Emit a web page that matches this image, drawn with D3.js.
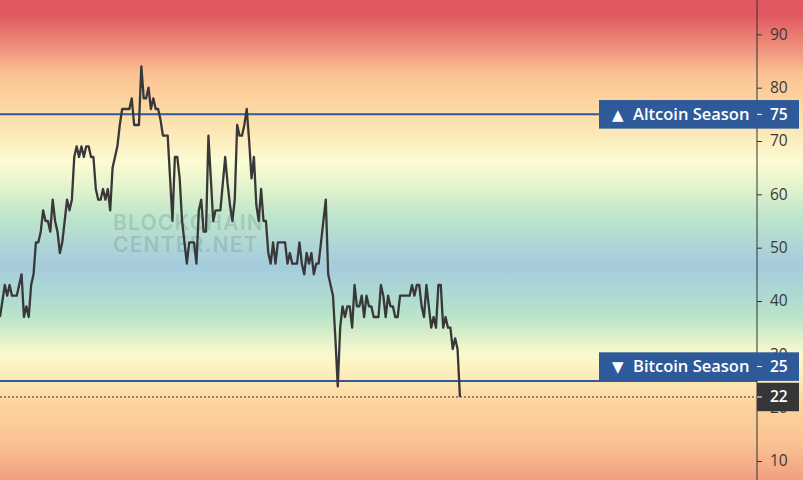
<!DOCTYPE html>
<html>
<head>
<meta charset="utf-8">
<script src="https://cdn.jsdelivr.net/npm/d3@7"></script>
<style>
html,body{margin:0;padding:0;background:#fff;}
svg{display:block;}
</style>
</head>
<body>
<svg id="chart" width="803" height="480"></svg>
<script>
// ---- data ----
const dayIndex = d3.range(0, 193); // one category per day
const seasonIndex = [
37,40,43,41,43,41,41,41,43,45,
37,39,37,43,45,51,51,53,57,55,
55,53,59,55,53,49,51,55,59,57,
59,67,69,67,69,67,69,69,67,67,
61,59,59,61,59,61,57,65,67,69,
73,76,76,76,76,78,73,73,73,84,
78,78,80,76,78,76,76,74,71,71,
71,63,55,67,67,63,55,51,47,51,
51,51,47,57,59,53,53,71,63,55,
57,57,57,62,67,62,58,55,59,73,
71,71,73,76,70,63,67,58,55,61,
55,55,49,47,51,47,51,51,51,51,
47,49,47,47,47,51,47,45,49,47,
49,45,47,47,51,55,59,45,43,41,
33,24,35,39,37,39,39,35,43,39,
39,41,37,41,39,39,37,37,37,43,
41,37,41,39,39,37,37,41,41,41,
41,41,43,41,43,43,39,37,43,39,
35,37,35,43,43,35,37,35,35,31,
33,31,22
];
const yTicks = [10,20,30,40,50,60,70,80,90];
const thresholds = [
  {value:75, icon:"\u25B2", label:"Altcoin Season", labelAt:75},
  {value:25, icon:"\u25BC", label:"Bitcoin Season", labelAt:27.7}
];
const currentValue = 22;
const watermark = ["BLOCKCHAIN","CENTER.NET"];
// background colour stops (value -> colour)
const bgStops = [
  [96.4,"#e05860"],[93.5,"#e05a60"],[88,"#ee8c7a"],[82.5,"#fbc394"],
  [75,"#fddca6"],[66,"#fbfcd3"],[61,"#e1f2cc"],[56,"#bfe6cb"],
  [46.7,"#a5cbdd"],[40,"#b0dcd0"],[36.4,"#bfe6c8"],[30,"#fbfacd"],
  [26,"#fdecba"],[21,"#fcd4a0"],[14,"#fbc595"],[6.4,"#f0a080"]
];

// ---- layout ----
const W = 803, H = 480, axisX = 757;
const svg = d3.select("#chart");
const y = d3.scaleLinear().domain([6.4375, 96.4375]).range([480, 0]);
const x = d3.scaleLinear().domain([0, 316]).range([0, axisX]);

// background gradient
const defs = svg.append("defs");
const grad = defs.append("linearGradient").attr("id","bg")
  .attr("gradientUnits","userSpaceOnUse").attr("x1",0).attr("y1",0).attr("x2",0).attr("y2",H);
grad.selectAll("stop").data(bgStops).join("stop")
  .attr("offset", d => Math.max(0, Math.min(1, y(d[0]) / H)))
  .attr("stop-color", d => d[1]);
svg.append("rect").attr("width",W).attr("height",H).attr("fill","url(#bg)");

// watermark
svg.append("g").selectAll("text").data(watermark).join("text")
  .attr("x",113).attr("y",(d,i)=>230 + i*21.5)
  .attr("font-family","Inter, 'Open Sans', sans-serif")
  .attr("font-size",21).attr("font-weight",600).attr("letter-spacing",1.2)
  .attr("fill","#5a7d7e").attr("fill-opacity",0.26)
  .text(d=>d);

// threshold lines
svg.append("g").selectAll("line").data(thresholds).join("line")
  .attr("x1",0).attr("x2",axisX)
  .attr("y1",d=>y(d.value)).attr("y2",d=>y(d.value))
  .attr("stroke","#2f5a9c").attr("stroke-width",2);

// current value dotted line
svg.append("line").attr("x1",0).attr("x2",axisX)
  .attr("y1",y(currentValue)).attr("y2",y(currentValue))
  .attr("stroke","#333").attr("stroke-width",1).attr("stroke-dasharray","2,2");

// index line
const line = d3.line().x((d,i)=>x(dayIndex[i])).y(d=>y(d));
svg.append("path").datum(seasonIndex)
  .attr("d",line).attr("fill","none")
  .attr("stroke","#383838").attr("stroke-width",2.3).attr("stroke-linejoin","round");

// right axis
const axis = svg.append("g").attr("transform",`translate(${axisX},0)`)
  .call(d3.axisRight(y).tickValues(yTicks).tickSize(5).tickPadding(8).tickSizeOuter(0));
axis.select(".domain").attr("stroke","#333").attr("d",`M0,0V${H}`);
axis.selectAll(".tick line").attr("stroke","#333");
axis.selectAll(".tick text").attr("fill","#3a3a3a")
  .attr("font-family","'Open Sans', sans-serif").attr("font-size",15.5);

// threshold label boxes (bitcoin box pushed up above the current-value box)
const boxes = svg.append("g").selectAll("g").data(thresholds).join("g")
  .attr("transform",d=>`translate(0,${y(d.labelAt)})`);
boxes.append("rect").attr("x",599).attr("y",-14.3).attr("width",200).attr("height",28.6)
  .attr("fill","#2f5a9a");
const lbl = boxes.append("text").attr("x",612).attr("y",0).attr("dy","0.35em")
  .attr("fill","#fff").attr("font-family","'Open Sans', sans-serif")
  .attr("font-size",16.5).attr("font-weight",600);
lbl.append("tspan").attr("font-family","'DejaVu Sans', sans-serif").attr("font-size",15).text(d=>d.icon);
lbl.append("tspan").attr("x",633).text(d=>d.label);
boxes.append("line").attr("x1",axisX).attr("x2",axisX+5).attr("stroke","#fff");
boxes.append("text").attr("x",770).attr("y",0).attr("dy","0.35em")
  .attr("fill","#fff").attr("font-family","'Open Sans', sans-serif")
  .attr("font-size",15.5).attr("font-weight",600).text(d=>d.value);

// current value box
const cur = svg.append("g").attr("transform",`translate(0,${y(currentValue)})`);
cur.append("rect").attr("x",axisX).attr("y",-14.2).attr("width",42).attr("height",28.4).attr("fill","#363636");
cur.append("line").attr("x1",axisX).attr("x2",axisX+5).attr("stroke","#fff");
cur.append("text").attr("x",770).attr("y",0).attr("dy","0.35em")
  .attr("fill","#fff").attr("font-family","'Open Sans', sans-serif")
  .attr("font-size",15.5).attr("font-weight",600).text(currentValue);
</script>
</body>
</html>
